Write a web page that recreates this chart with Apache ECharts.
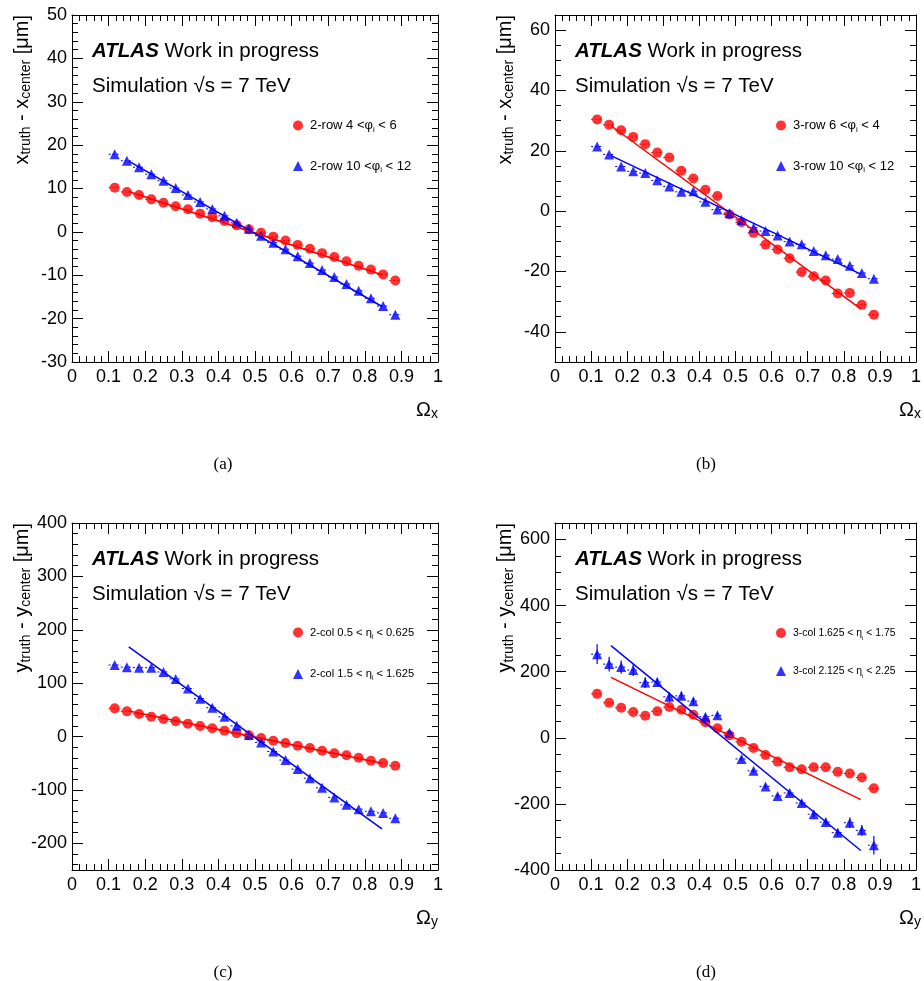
<!DOCTYPE html>
<html><head><meta charset="utf-8">
<script src="https://cdn.jsdelivr.net/npm/echarts@6/dist/echarts.min.js"></script>
<style>html,body{margin:0;padding:0;background:#fff}#c{width:924px;height:981px}</style>
</head><body><div id="c"></div>
<script>
// ---------- data ----------
const xCenters = [0.1167,0.15,0.1833,0.2167,0.25,0.2833,0.3167,0.35,0.3833,0.4167,0.45,0.4833,0.5167,0.55,0.5833,0.6167,0.65,0.6833,0.7167,0.75,0.7833,0.8167,0.85,0.8833];
const xHalfBin = 0.0167;
const fitX = [0.155, 0.847];

const aRed  = [10.2,9.2,8.5,7.5,6.7,5.9,5.2,4.2,3.4,2.5,1.5,0.6,-0.2,-1.1,-2.0,-3.0,-3.9,-4.9,-5.8,-6.8,-7.8,-8.7,-9.8,-11.2];
const aBlue = [17.9,16.4,14.9,13.3,11.8,10.1,8.5,6.9,5.3,3.7,2.1,0.7,-0.9,-2.5,-4.0,-5.6,-7.2,-8.8,-10.4,-12.0,-13.6,-15.3,-17.1,-19.1];
const aRedFit = [9.3,-9.9];
const aBlueFit = [16.3,-17.2];

const bRed  = [30.4,28.6,26.8,24.6,22.2,19.4,17.8,13.4,10.8,7.1,5.0,-1.1,-3.7,-7.2,-11.1,-12.7,-15.6,-20.2,-21.6,-23.0,-27.3,-27.1,-31.0,-34.3];
const bBlue = [21.4,18.8,14.8,13.2,12.6,10.2,8.2,6.4,6.6,3.1,0.5,-0.7,-2.9,-5.5,-6.6,-8.1,-10.1,-11.0,-13.2,-14.6,-15.9,-18.1,-20.5,-22.4];
const bRedFit = [28.3,-32.4];
const bBlueFit = [18.4,-20.9];

const cRed  = [52.8,47.2,42.2,37.2,32.8,28.5,24.0,19.7,15.4,10.9,6.0,2.2,-2.8,-7.8,-12.1,-17.1,-21.5,-26.5,-31.5,-35.2,-39.6,-45.3,-49.6,-54.6];
const cBlue = [134,130,129,129,121,108,90,71,54,37,20,3,-11,-28,-44,-61,-78,-96,-114,-128,-136,-140,-143,-153];
const cRedFit = [48,-50];
const cBlueFit = [168,-173];

const dRed  = [133,106,91,78,67,80,93,85,70,47,29,8,-12,-31,-52,-72,-89,-95,-89,-89,-103,-108,-120,-153];
const dBlue = [253,223,214,205,167,169,124,127,111,64,68,15,-64,-100,-147,-176,-167,-197,-231,-255,-287,-257,-280,-325];
const dBlueErr = [30,22,20,18,16,12,14,12,10,8,8,6,6,6,6,6,8,8,10,10,12,16,16,28];
const dRedFit = [183,-187];
const dBlueFit = [279,-341];

// legend labels
const names = {
  a: ['2-row 4 <φ_i < 6', '2-row 10 <φ_i < 12'],
  b: ['3-row 6 <φ_i < 4', '3-row 10 <φ_i < 12'],
  c: ['2-col 0.5 < η_i < 0.625', '2-col 1.5 < η_i < 1.625'],
  d: ['3-col 1.625 < η_i < 1.75', '3-col 2.125 < η_i < 2.25']
};
// axis tick labels
const xMajor = [0,0.1,0.2,0.3,0.4,0.5,0.6,0.7,0.8,0.9,1];
const aYMajor = [-30,-20,-10,0,10,20,30,40,50];
const bYMajor = [-40,-20,0,20,40,60];
const cYMajor = [-200,-100,0,100,200,300,400];
const dYMajor = [-400,-200,0,200,400,600];

// ---------- layout ----------
const FONT = 'Liberation Sans, Arial, sans-serif';
const RED = '#ff0000', BLUE = '#0000ff';
function range(lo, hi, step){const o=[];for(let v=lo;v<=hi+1e-9;v+=step)o.push(Math.round(v*1e6)/1e6);return o;}

const panels = [
  {key:'a', left:72, top:15, ymin:-30, ymax:50, yMajor:aYMajor, yMinorStep:2, red:aRed, blue:aBlue, redFit:aRedFit, blueFit:aBlueFit, blueErr:null, title:'x', omega:'x', letter:'(a)', legFont:13, legGap:26, legTop:99},
  {key:'b', left:555, top:15, ymin:-50, ymax:65, yMajor:bYMajor, yMinorStep:5, red:bRed, blue:bBlue, redFit:bRedFit, blueFit:bBlueFit, blueErr:null, title:'x', omega:'x', letter:'(b)', legFont:13, legGap:26, legTop:99},
  {key:'c', left:72, top:523, ymin:-250, ymax:400, yMajor:cYMajor, yMinorStep:20, red:cRed, blue:cBlue, redFit:cRedFit, blueFit:cBlueFit, blueErr:null, title:'y', omega:'y', letter:'(c)', legFont:11.2, legGap:28, legTop:99},
  {key:'d', left:555, top:523, ymin:-400, ymax:650, yMajor:dYMajor, yMinorStep:50, red:dRed, blue:dBlue, redFit:dRedFit, blueFit:dBlueFit, blueErr:dBlueErr, title:'y', omega:'y', letter:'(d)', legFont:10.4, legGap:25, legTop:100}
];
const W = 366, H = 347;

const grid = [], xAxis = [], yAxis = [], series = [], legend = [], graphic = [];
const tickStyle = {color:'#000', width:1};
const frameLine = {show:true, onZero:false, lineStyle:{color:'#000', width:1}};
const noLine = {show:false, onZero:false};

panels.forEach((p, i) => {
  grid.push({left:p.left, top:p.top, width:W, height:H, containLabel:false});
  const xMinor = range(0, 1, 0.02);
  const yMinor = range(Math.ceil(p.ymin/p.yMinorStep)*p.yMinorStep, p.ymax, p.yMinorStep);
  const baseX = {type:'value', gridIndex:i, min:0, max:1, splitLine:{show:false}};
  const baseY = {type:'value', gridIndex:i, min:p.ymin, max:p.ymax, splitLine:{show:false}};
  // x axes: bottom major, bottom minor, top major, top minor
  xAxis.push(Object.assign({}, baseX, {position:'bottom', axisLine:frameLine,
    axisTick:{show:true, inside:true, length:11, customValues:xMajor, lineStyle:tickStyle},
    axisLabel:{show:true, customValues:xMajor, margin:6, color:'#000', fontSize:18, fontFamily:FONT,
      formatter:v => String(Math.round(v*10)/10)}}));
  xAxis.push(Object.assign({}, baseX, {position:'bottom', axisLine:noLine,
    axisTick:{show:true, inside:true, length:6, customValues:xMinor, lineStyle:tickStyle}, axisLabel:{show:false}}));
  xAxis.push(Object.assign({}, baseX, {position:'top', axisLine:frameLine,
    axisTick:{show:true, inside:true, length:11, customValues:xMajor, lineStyle:tickStyle}, axisLabel:{show:false}}));
  xAxis.push(Object.assign({}, baseX, {position:'top', axisLine:noLine,
    axisTick:{show:true, inside:true, length:6, customValues:xMinor, lineStyle:tickStyle}, axisLabel:{show:false}}));
  // y axes: left major, left minor, right major, right minor
  yAxis.push(Object.assign({}, baseY, {position:'left', axisLine:frameLine,
    axisTick:{show:true, inside:true, length:11, customValues:p.yMajor, lineStyle:tickStyle},
    axisLabel:{show:true, customValues:p.yMajor, margin:5, color:'#000', fontSize:18, fontFamily:FONT}}));
  yAxis.push(Object.assign({}, baseY, {position:'left', axisLine:noLine,
    axisTick:{show:true, inside:true, length:6, customValues:yMinor, lineStyle:tickStyle}, axisLabel:{show:false}}));
  yAxis.push(Object.assign({}, baseY, {position:'right', axisLine:frameLine,
    axisTick:{show:true, inside:true, length:11, customValues:p.yMajor, lineStyle:tickStyle}, axisLabel:{show:false}}));
  yAxis.push(Object.assign({}, baseY, {position:'right', axisLine:noLine,
    axisTick:{show:true, inside:true, length:6, customValues:yMinor, lineStyle:tickStyle}, axisLabel:{show:false}}));

  const xi = i*4, yi = i*4;
  const nm = names[p.key];
  const mk = (vals, err) => vals.map((v, k) => [xCenters[k], v, err ? err[k] : 0]);
  // error bars
  const errSeries = (vals, err, color) => ({
    type:'custom', xAxisIndex:xi, yAxisIndex:yi, z:2, silent:true,
    data: mk(vals, err), encode:{x:0, y:1},
    renderItem:(params, api) => {
      const x = api.value(0), y = api.value(1), e = api.value(2);
      const l = api.coord([x - xHalfBin, y]), r = api.coord([x + xHalfBin, y]);
      const children = [{type:'line', shape:{x1:l[0], y1:l[1], x2:r[0], y2:r[1]}, style:{stroke:color, lineWidth:1, lineDash:[2,2]}}];
      if (e > 0) {
        const t = api.coord([x, y + e]), b = api.coord([x, y - e]);
        children.push({type:'line', shape:{x1:t[0], y1:t[1], x2:b[0], y2:b[1]}, style:{stroke:color, lineWidth:1.2}});
      }
      return {type:'group', children};
    }
  });
  series.push(errSeries(p.red, null, RED));
  series.push(errSeries(p.blue, p.blueErr, BLUE));
  series.push({type:'scatter', name:nm[0], xAxisIndex:xi, yAxisIndex:yi, z:3, symbol:'circle', symbolSize:10,
    itemStyle:{color:RED}, data: mk(p.red).map(d => [d[0], d[1]])});
  series.push({type:'scatter', name:nm[1], xAxisIndex:xi, yAxisIndex:yi, z:3, symbol:'triangle', symbolSize:10,
    itemStyle:{color:BLUE}, data: mk(p.blue).map(d => [d[0], d[1]])});
  series.push({type:'line', xAxisIndex:xi, yAxisIndex:yi, z:4, showSymbol:false, symbol:'none', silent:true,
    lineStyle:{color:RED, width:1.5}, data:[[fitX[0], p.redFit[0]], [fitX[1], p.redFit[1]]]});
  series.push({type:'line', xAxisIndex:xi, yAxisIndex:yi, z:4, showSymbol:false, symbol:'none', silent:true,
    lineStyle:{color:BLUE, width:1.5}, data:[[fitX[0], p.blueFit[0]], [fitX[1], p.blueFit[1]]]});

  const fs = p.legFont;
  legend.push({
    data:[{name:nm[0], icon:'circle'}, {name:nm[1], icon:'triangle'}],
    orient:'vertical', left:p.left + 216, top:p.top + p.legTop, itemWidth:10, itemHeight:10, itemGap:p.legGap,
    selectedMode:false,
    formatter: n => { const parts = n.split('_'); return '{f|' + parts[0] + '}{s|' + parts[1].charAt(0) + '}{n|' + parts[1].slice(1) + '}'; },
    textStyle:{color:'#000', fontFamily:FONT, fontSize:fs, rich:{
      f:{fontSize:fs, fontFamily:FONT, color:'#000', lineHeight:16, padding:[0,0,0,2]},
      n:{fontSize:fs, fontFamily:FONT, color:'#000', lineHeight:16},
      s:{fontSize:fs*0.6, fontFamily:FONT, color:'#000', lineHeight:6, verticalAlign:'bottom'}
    }}
  });

  const richMain = {
    m:{fontSize:20, fontFamily:FONT, fill:'#000', lineHeight:23},
    s:{fontSize:14, fontFamily:FONT, fill:'#000', lineHeight:10, verticalAlign:'bottom'},
    h:{fontSize:20.5, fontFamily:FONT, fill:'#000', lineHeight:23},
    b:{fontSize:20.5, fontFamily:FONT, fill:'#000', lineHeight:23, fontWeight:'bold', fontStyle:'italic'}
  };
  graphic.push({type:'text', x:p.left + 20, y:p.top + 36, style:{
    text:'{b|ATLAS}{h| Work in progress}', rich:richMain, verticalAlign:'middle', align:'left'}});
  graphic.push({type:'text', x:p.left + 20, y:p.top + 71, style:{
    text:'{h|Simulation √s = 7 TeV}', rich:richMain, verticalAlign:'middle', align:'left'}});
  graphic.push({type:'text', x:p.left - 50, y:p.top, rotation:Math.PI/2, style:{
    text:'{m|' + p.title + '}{s|truth}{m| - ' + p.title + '}{s|center}{m| [μm]}', rich:richMain, verticalAlign:'middle', align:'right'}});
  graphic.push({type:'text', x:p.left + W, y:p.top + 395, style:{
    text:'{m|Ω}{s|' + p.omega + '}', rich:richMain, verticalAlign:'middle', align:'right'}});
  graphic.push({type:'text', x:p.left + 151, y:p.top + 450, style:{
    text:p.letter, fontSize:17, fontFamily:'Liberation Serif, DejaVu Serif, serif', fill:'#000', verticalAlign:'middle', align:'center'}});
});

const chart = echarts.init(document.getElementById('c'), null, {renderer:'canvas'});
chart.setOption({
  backgroundColor:'#fff', animation:false,
  grid, xAxis, yAxis, series, legend, graphic
});
</script>
</body></html>
